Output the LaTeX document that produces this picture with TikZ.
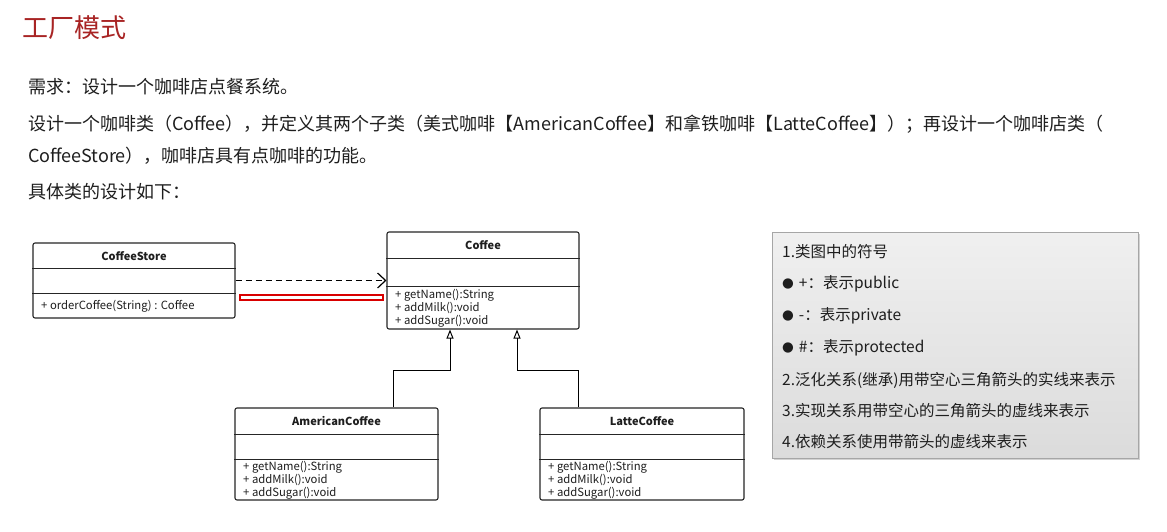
\documentclass[tikz,border=0pt]{standalone}
\usepackage{fontspec}
\setmainfont{Noto Sans CJK SC}
\newfontfamily\djv{DejaVu Sans}
\usetikzlibrary{arrows.meta,shadows}
\definecolor{titlered}{RGB}{168,36,36}
\definecolor{bodytext}{RGB}{30,30,30}
\newcommand{\lgbullet}{\raisebox{0.8pt}{\djv\fontsize{13.5}{14}\selectfont ●}\hspace{5pt}}
\begin{document}
\begin{tikzpicture}[x=1pt,y=-1pt,
  every node/.style={inner sep=0pt, text=bodytext},
  cls/.style={draw=black!85, line width=1.1pt, rounded corners=2pt, fill=white},
  sep/.style={draw=black!85, line width=1pt},
  clstitle/.style={font=\fontsize{11}{12}\selectfont\bfseries},
  clsbody/.style={font=\fontsize{11.3}{13}\selectfont, align=left, anchor=north west},
  body/.style={font=\fontsize{18}{20}\selectfont, anchor=west},
  legend/.style={font=\fontsize{15.5}{17}\selectfont, anchor=west},
  dep/.style={line width=1.3pt, dash pattern=on 6pt off 4pt, -{Straight Barb[length=8pt,width=15pt,line width=1.2pt]}},
  inh/.style={line width=1pt, -{Triangle[open,length=9pt,width=7pt,line width=1pt]}}
]
\useasboundingbox (0,0) rectangle (1167,532);
\fill[white] (0,0) rectangle (1167,532);

% title and text
\node[anchor=west, font=\fontsize{26}{28}\selectfont, text=titlered] (title) at (22,28) {工厂模式};
\node[body] (l1) at (28,87) {需求：设计一个咖啡店点餐系统。};
\node[body] (l2) at (28,124) {设计一个咖啡类（Coffee），并定义其两个子类（美式咖啡【AmericanCoffee】和拿铁咖啡【LatteCoffee】）；再设计一个咖啡店类（};
\node[body] (l3) at (28,156) {CoffeeStore），咖啡店具有点咖啡的功能。};
\node[body] (l4) at (28,192) {具体类的设计如下：};

% CoffeeStore
\node[cls, minimum width=202pt, minimum height=75pt] (store) at (134,280.5) {};
\draw[sep] (store.west |- 0,268) -- (store.east |- 0,268);
\draw[sep] (store.west |- 0,293) -- (store.east |- 0,293);
\node[clstitle] (storet) at (134,256) {CoffeeStore};
\node[clsbody] (storem) at (41,300) {+ orderCoffee(String) : Coffee};

% Coffee
\node[cls, minimum width=192pt, minimum height=97pt] (coffee) at (483,280.5) {};
\draw[sep] (coffee.west |- 0,258) -- (coffee.east |- 0,258);
\draw[sep] (coffee.west |- 0,286) -- (coffee.east |- 0,286);
\node[clstitle] (coffeet) at (483,245) {Coffee};
\node[clsbody] (coffeem) at (395,289.5) {+ getName():String\\+ addMilk():void\\+ addSugar():void};

% AmericanCoffee
\node[cls, minimum width=203pt, minimum height=92pt] (american) at (336.5,454) {};
\draw[sep] (american.west |- 0,434) -- (american.east |- 0,434);
\draw[sep] (american.west |- 0,459) -- (american.east |- 0,459);
\node[clstitle] (americant) at (336.5,421) {AmericanCoffee};
\node[clsbody] (americanm) at (243,461) {+ getName():String\\+ addMilk():void\\+ addSugar():void};

% LatteCoffee
\node[cls, minimum width=204pt, minimum height=92pt] (latte) at (642,454) {};
\draw[sep] (latte.west |- 0,434) -- (latte.east |- 0,434);
\draw[sep] (latte.west |- 0,459) -- (latte.east |- 0,459);
\node[clstitle] (lattet) at (642,421) {LatteCoffee};
\node[clsbody] (lattem) at (548,461) {+ getName():String\\+ addMilk():void\\+ addSugar():void};

% dependency
\draw[dep] (store.east) -- (coffee.west);
% red highlight
\draw[red!85!black, line width=1.3pt, fill=white] (240,295) rectangle (383,300);

% inheritance
\coordinate (a1) at (393,370);
\coordinate (a2) at (450,370);
\coordinate (b1) at (578,370);
\coordinate (b2) at (517,370);
\draw[inh] (american.north -| a1) -- (a1) -- (a2) -- (coffee.south -| a2);
\draw[inh] (latte.north -| b1) -- (b1) -- (b2) -- (coffee.south -| b2);

% legend
\node[draw=gray!70, line width=0.8pt, top color=gray!12, bottom color=gray!28, drop shadow={opacity=0.35, shadow xshift=2pt, shadow yshift=-2pt},
  minimum width=366pt, minimum height=226pt] (legendbox) at (955,345) {};
\node[legend] (g1) at (782,252) {1.类图中的符号};
\node[legend] (g2) at (782,284) {\lgbullet+：表示public};
\node[legend] (g3) at (782,316) {\lgbullet-：表示private};
\node[legend] (g4) at (782,348) {\lgbullet\#：表示protected};
\node[legend] (g5) at (782,380) {2.泛化关系(继承)用带空心三角箭头的实线来表示};
\node[legend] (g6) at (782,411) {3.实现关系用带空心的三角箭头的虚线来表示};
\node[legend] (g7) at (782,442) {4.依赖关系使用带箭头的虚线来表示};
\end{tikzpicture}
\end{document}
